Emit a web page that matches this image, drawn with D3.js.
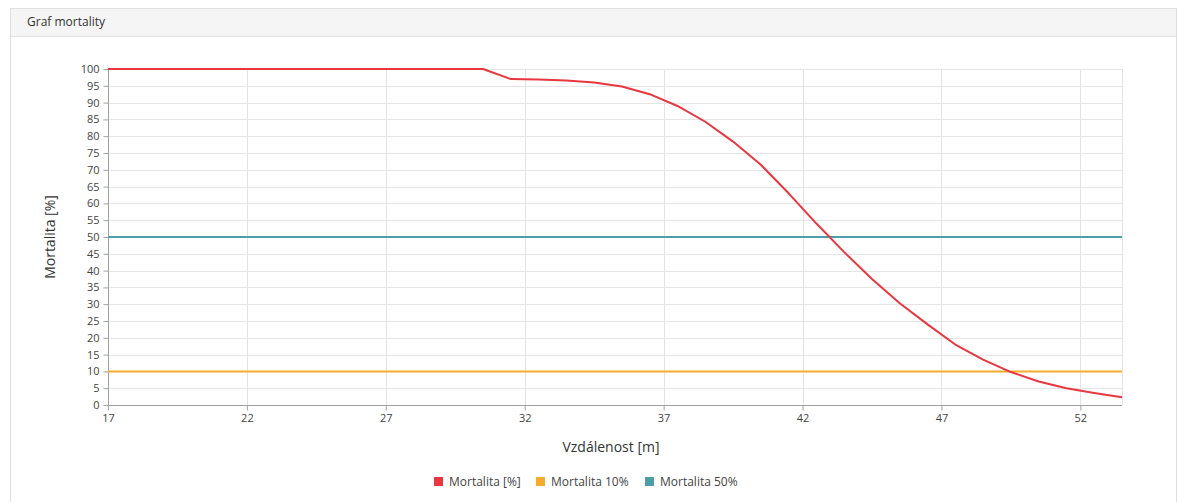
<!DOCTYPE html>
<html>
<head>
<meta charset="utf-8">
<script src="https://cdn.jsdelivr.net/npm/d3@7"></script>
<style>
  html, body { margin: 0; padding: 0; background: #fff; }
  svg { display: block; font-family: "Open Sans", "Noto Sans", sans-serif; }
</style>
</head>
<body>
<svg id="chart" width="1177" height="502"></svg>
<script>
// ---- data ----
const distances = [17, 18.5, 19.5, 20.5, 21.5, 22.5, 23.5, 24.5, 25.5, 26.5, 27.5, 28.5, 29.5, 30.5,
  31.5, 32.5, 33.5, 34.5, 35.5, 36.5, 37.5, 38.5, 39.5, 40.5, 41.5, 42.5, 43.5, 44.5,
  45.5, 46.5, 47.5, 48.5, 49.5, 50.5, 51.5, 52.5, 53.5];
const mortality = [100, 100, 100, 100, 100, 100, 100, 100, 100, 100, 100, 100, 100, 100,
  97.0, 96.9, 96.6, 96.0, 94.8, 92.5, 89.0, 84.3, 78.4, 71.5, 63.0, 54.0, 45.5, 37.5,
  30.3, 24.0, 18.0, 13.5, 9.8, 7.0, 5.0, 3.6, 2.3];
const mortality10 = 10;
const mortality50 = 50;
const xTicks = [17, 22, 27, 32, 37, 42, 47, 52];
const yTicks = d3.range(0, 101, 5);
const seriesNames = ["Mortalita [%]", "Mortalita 10%", "Mortalita 50%"];
const seriesColors = ["#e8373e", "#f5ac2c", "#4d9ea6"];
const titleText = "Graf mortality";
const xTitle = "Vzdálenost [m]";
const yTitle = "Mortalita [%]";

// ---- layout ----
const svg = d3.select("#chart");
const plot = { left: 108, right: 1122, top: 69, bottom: 405 };

// panel
svg.append("rect").attr("x", 10.5).attr("y", 8.5).attr("width", 1166).attr("height", 500)
  .attr("fill", "#fff").attr("stroke", "#dedede");
svg.append("rect").attr("x", 11).attr("y", 9).attr("width", 1165).attr("height", 27)
  .attr("fill", "#f5f5f5");
svg.append("line").attr("x1", 11).attr("x2", 1176).attr("y1", 36.5).attr("y2", 36.5)
  .attr("stroke", "#e2e2e2");
svg.append("text").attr("x", 27).attr("y", 26).attr("font-size", 12).attr("fill", "#333")
  .text(titleText);

const x = d3.scaleLinear().domain([17, 53.5]).range([plot.left, plot.right]);
const y = d3.scaleLinear().domain([0, 100]).range([plot.bottom, plot.top]);

// grid
const g = svg.append("g");
g.selectAll("line.hg").data(yTicks.filter(v => v > 0)).join("line")
  .attr("x1", plot.left).attr("x2", plot.right)
  .attr("y1", d => Math.round(y(d)) + 0.5).attr("y2", d => Math.round(y(d)) + 0.5)
  .attr("stroke", "#e5e5e5");
g.selectAll("line.vg").data(xTicks.filter(v => v > 17).concat([53.5])).join("line")
  .attr("x1", d => Math.round(x(d)) + 0.5).attr("x2", d => Math.round(x(d)) + 0.5)
  .attr("y1", plot.top).attr("y2", plot.bottom)
  .attr("stroke", "#e3e3e3");

// axes
const yAxis = d3.axisLeft(y).tickValues(yTicks).tickSize(5).tickPadding(4);
const xAxis = d3.axisBottom(x).tickValues(xTicks).tickSize(5).tickPadding(4);
const ya = svg.append("g").attr("transform", `translate(${plot.left + 0.5},0)`).call(yAxis);
const xa = svg.append("g").attr("transform", `translate(0,${plot.bottom + 0.5})`).call(xAxis);
[ya, xa].forEach(a => {
  a.select(".domain").attr("stroke", "#a0a0a0");
  a.selectAll(".tick line").attr("stroke", "#a0a0a0");
  a.selectAll(".tick text").attr("fill", "#444").attr("font-size", 11)
    .attr("font-family", "\"Open Sans\", \"Noto Sans\", sans-serif");
});
ya.select(".domain").attr("d", `M0,${plot.top}V${plot.bottom}`);
xa.select(".domain").attr("d", `M${plot.left},0H${plot.right}`);

// axis titles
svg.append("text").attr("transform", `translate(55,${(plot.top + plot.bottom) / 2}) rotate(-90)`)
  .attr("text-anchor", "middle").attr("font-size", 14).attr("fill", "#333").text(yTitle);
svg.append("text").attr("x", 611).attr("y", 452)
  .attr("text-anchor", "middle").attr("font-size", 14).attr("fill", "#333").text(xTitle);

// threshold lines
const xd = d3.extent(distances);
svg.append("line").attr("x1", x(xd[0])).attr("x2", x(xd[1]))
  .attr("y1", y(mortality10)).attr("y2", y(mortality10))
  .attr("stroke", seriesColors[1]).attr("stroke-width", 2);
svg.append("line").attr("x1", x(xd[0])).attr("x2", x(xd[1]))
  .attr("y1", y(mortality50)).attr("y2", y(mortality50))
  .attr("stroke", seriesColors[2]).attr("stroke-width", 2);

// main line
const line = d3.line().x((d, i) => x(distances[i])).y(d => y(d)).curve(d3.curveLinear);
svg.append("path").datum(mortality).attr("d", line)
  .attr("fill", "none").attr("stroke", seriesColors[0]).attr("stroke-width", 2)
  .attr("stroke-linejoin", "round");

// legend
const legendX = [434, 536, 645];
const lg = svg.append("g");
seriesNames.forEach((n, i) => {
  lg.append("rect").attr("x", legendX[i]).attr("y", 477).attr("width", 9).attr("height", 9)
    .attr("fill", seriesColors[i]);
  lg.append("text").attr("x", legendX[i] + 15).attr("y", 486).attr("font-size", 12)
    .attr("fill", "#444").text(n);
});
</script>
</body>
</html>
